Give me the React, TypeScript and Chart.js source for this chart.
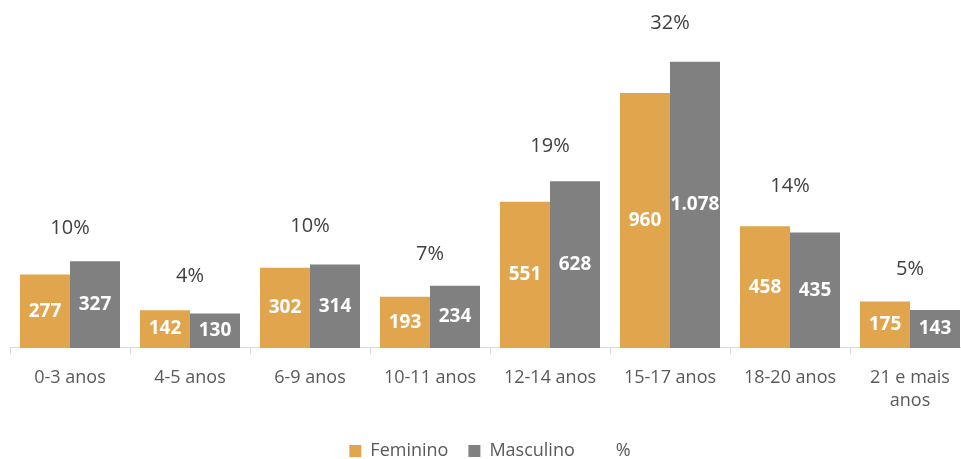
import React, { useEffect, useRef } from "react";
import { Chart, registerables } from "chart.js";

Chart.register(...registerables);

const categories: (string | string[])[] = [
  "0-3 anos",
  "4-5 anos",
  "6-9 anos",
  "10-11 anos",
  "12-14 anos",
  "15-17 anos",
  "18-20 anos",
  ["21 e mais", "anos"],
];
const feminino = [277, 142, 302, 193, 551, 960, 458, 175];
const masculino = [327, 130, 314, 234, 628, 1078, 435, 143];
const percent = [9.5, 4.3, 9.7, 6.7, 18.6, 32.1, 14.1, 5.0];

const ORANGE = "#E1A54D";
const GRAY = "#808080";
const FONT = "'Open Sans', 'Noto Sans', sans-serif";

const fmt = (v: number) => String(v).replace(/\B(?=(\d{3})+(?!\d))/g, ".");

const labelPlugin = {
  id: "valueLabels",
  afterDatasetsDraw(chart: any) {
    const ctx = chart.ctx;
    ctx.save();
    ctx.textAlign = "center";
    ctx.textBaseline = "middle";
    [0, 1].forEach((i) => {
      const meta = chart.getDatasetMeta(i);
      const data = chart.data.datasets[i].data as number[];
      meta.data.forEach((el: any, j: number) => {
        const p = el.getProps(["x", "y", "base"], true);
        ctx.font = `bold 19px ${FONT}`;
        ctx.fillStyle = "#FFFFFF";
        ctx.fillText(fmt(data[j]), p.x, (p.y + p.base) / 2);
      });
    });
    const meta2 = chart.getDatasetMeta(2);
    const pd = chart.data.datasets[2].data as number[];
    meta2.data.forEach((el: any, j: number) => {
      const p = el.getProps(["x", "y"], true);
      ctx.font = `20px ${FONT}`;
      ctx.fillStyle = "#404040";
      ctx.fillText(Math.round(pd[j]) + "%", p.x, p.y - 33);
    });
    ctx.restore();
  },
};

export default function App() {
  const ref = useRef<HTMLCanvasElement | null>(null);

  useEffect(() => {
    document.body.style.margin = "0";
    document.body.style.overflow = "hidden";
    if (!ref.current) return;
    const chart = new Chart(ref.current, {
      type: "bar",
      data: {
        labels: categories,
        datasets: [
          {
            label: "Feminino",
            data: feminino,
            backgroundColor: ORANGE,
            borderWidth: 0,
            categoryPercentage: 0.8333,
            barPercentage: 1,
            yAxisID: "y",
          },
          {
            label: "Masculino",
            data: masculino,
            backgroundColor: GRAY,
            borderWidth: 0,
            categoryPercentage: 0.8333,
            barPercentage: 1,
            yAxisID: "y",
          },
          {
            type: "line",
            label: "%",
            data: percent,
            showLine: false,
            pointRadius: 0,
            pointHoverRadius: 0,
            backgroundColor: "transparent",
            borderColor: "transparent",
            borderWidth: 0,
            yAxisID: "y1",
          } as any,
        ],
      },
      options: {
        animation: false,
        responsive: false,
        devicePixelRatio: 1,
        layout: { padding: { left: 10, right: 5, top: 5, bottom: 0 } },
        plugins: {
          legend: {
            position: "bottom",
            labels: {
              boxWidth: 12,
              boxHeight: 12,
              padding: 20,
              color: "#595959",
              font: { family: FONT, size: 18 },
            },
          },
          tooltip: { enabled: false },
        },
        scales: {
          x: {
            grid: {
              offset: true,
              drawOnChartArea: false,
              tickLength: 6,
              color: "#D9D9D9",
            },
            border: { color: "#D9D9D9" },
            ticks: {
              autoSkip: false,
              maxRotation: 0,
              color: "#595959",
              padding: 12,
              font: { family: FONT, size: 18, lineHeight: 1.28 },
            },
            afterFit: (scale: any) => {
              scale.height -= 2;
            },
          },
          y: { display: false, min: 0, max: 1292 },
          y1: { display: false, min: 0, max: 37.72 },
        },
      },
      plugins: [labelPlugin],
    });
    return () => chart.destroy();
  }, []);

  return (
    <div style={{ width: 961, height: 459, overflow: "hidden", position: "relative" }}>
      <canvas ref={ref} width={975} height={470} style={{ display: "block" }} />
    </div>
  );
}
